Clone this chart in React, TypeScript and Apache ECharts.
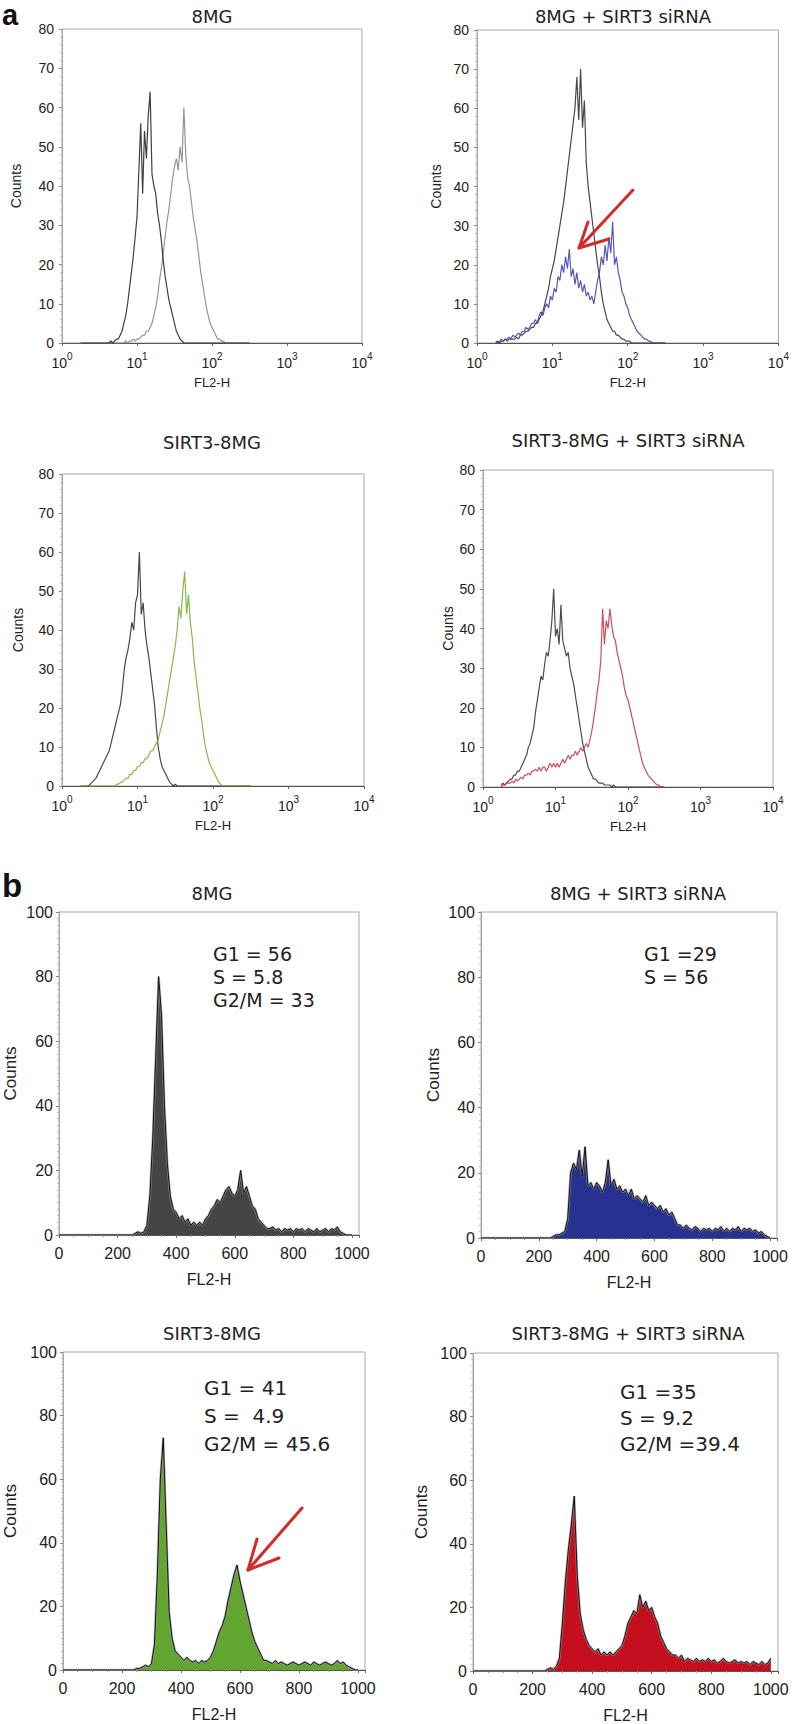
import React, { useEffect, useRef } from "react";
import * as echarts from "echarts";

// ---------- DATA ----------
// Panel a: log10 of FL2-H channel for each histogram point
const A_EXP = [
  0.25, 0.275, 0.3, 0.325, 0.35, 0.375, 0.4, 0.425, 0.45, 0.475,
  0.5, 0.525, 0.55, 0.575, 0.6, 0.625, 0.65, 0.675, 0.7, 0.725,
  0.75, 0.775, 0.8, 0.825, 0.85, 0.875, 0.9, 0.925, 0.95, 0.975,
  1, 1.025, 1.05, 1.075, 1.1, 1.125, 1.15, 1.175, 1.2, 1.225,
  1.25, 1.275, 1.3, 1.325, 1.35, 1.375, 1.4, 1.425, 1.45, 1.475,
  1.5, 1.525, 1.55, 1.575, 1.6, 1.625, 1.65, 1.675, 1.7, 1.725,
  1.75, 1.775, 1.8, 1.825, 1.85, 1.875, 1.9, 1.925, 1.95, 1.975,
  2, 2.025, 2.05, 2.075, 2.1, 2.125, 2.15, 2.175, 2.2, 2.225,
  2.25, 2.275, 2.3, 2.325, 2.35, 2.375, 2.4, 2.425, 2.45, 2.475, 2.5,
];

const A1_BLACK = [
  0, 0, 0, 0, 0, 0, 0, 0, 0, 0,
  0, 0, 0, 0, 0, 0, 0.5, 0, 0.5, 1,
  1, 2, 3, 5, 7, 10, 14, 18, 22, 27,
  32, 44, 56, 38, 54, 47, 58, 64, 43, 40,
  38, 33, 30, 26, 21, 17, 14, 11, 9, 7,
  5, 3, 2, 1, 0.5, 0, 0, 0, 0, 0,
  0, 0, 0, 0, 0, 0, 0, 0, 0, 0,
  0, 0, 0, 0, 0, 0, 0, 0, 0, 0,
  0, 0, 0, 0, 0, 0, 0, 0, 0, 0, 0,
];
const A1_GRAY = [
  0, 0, 0, 0, 0, 0, 0, 0, 0, 0,
  0, 0, 0, 0, 0, 0, 0, 0, 0, 0,
  0, 0, 0, 0, 0.5, 0, 0.5, 0.5, 1, 0.5,
  1, 1, 1.5, 2, 2, 3, 3, 4, 5, 7,
  9, 12, 16, 19, 23, 27, 31, 34, 38, 42,
  45, 47, 44, 50, 46, 60, 48, 42, 40, 36,
  32, 29, 26, 22, 18, 15, 12, 9, 7, 5,
  4, 3, 2, 1, 1, 0.5, 0.5, 0, 0, 0,
  0, 0, 0, 0, 0, 0, 0, 0, 0, 0, 0,
];
const A2_BLACK = [
  0, 0.5, 0, 0.5, 0.5, 1, 0.5, 1, 1, 1,
  1, 1.5, 1, 2, 2, 2.5, 3, 3, 3.5, 4,
  4, 5, 5, 6, 7, 8, 10, 12, 14, 17,
  19, 21, 24, 27, 30, 33, 36, 40, 44, 48,
  52, 56, 60, 68, 57, 70, 55, 62, 46, 40,
  36, 32, 28, 24, 20, 17, 13, 10, 8, 6,
  5, 4, 3, 3, 2, 2, 1.5, 1, 1, 0.5,
  0.5, 0.5, 0, 0, 0, 0, 0, 0, 0, 0,
  0, 0, 0, 0, 0, 0, 0, 0, 0, 0, 0,
];
const A2_BLUE = [
  0.5, 0, 0.5, 1, 0.5, 1, 1, 1.5, 1, 2,
  1.5, 2, 2.5, 2, 3, 3, 4, 3.5, 4, 5,
  5, 6, 5, 7, 8, 7, 9, 10, 9, 12,
  11, 14, 13, 17, 16, 20, 18, 22, 19, 24,
  17, 19, 15, 18, 14, 16, 13, 15, 12, 13,
  11, 12, 10, 13, 16, 18, 22, 20, 25, 21,
  27, 23, 31, 20, 22, 18, 16, 13, 12, 10,
  9, 7, 6, 5, 4, 3, 2.5, 2, 1.5, 1,
  1, 0.5, 0.5, 0, 0, 0, 0, 0, 0, 0, 0,
];
const A3_BLACK = [
  0, 0, 0, 0, 0, 0.5, 1, 1.5, 2, 3,
  4, 5, 6, 7, 8, 9, 11, 13, 15, 17,
  19, 21, 25, 30, 33, 35, 38, 42, 40, 47,
  49, 60, 44, 47, 40, 36, 33, 29, 25, 21,
  15, 10, 7, 5, 4, 3, 2, 1, 0.5, 0,
  0.5, 0, 0, 0, 0, 0, 0, 0, 0, 0,
  0, 0, 0, 0, 0, 0, 0, 0, 0, 0,
  0, 0, 0, 0, 0, 0, 0, 0, 0, 0,
  0, 0, 0, 0, 0, 0, 0, 0, 0, 0, 0,
];
const A3_GREEN = [
  0, 0, 0, 0, 0, 0, 0, 0, 0, 0,
  0, 0, 0, 0, 0, 0, 0, 0, 0, 0.5,
  0.5, 1, 1, 1.5, 2, 2, 3, 3, 4, 4,
  5, 5, 6, 6, 7, 7, 8, 9, 9, 10,
  11, 12, 14, 16, 18, 21, 24, 27, 30, 33,
  36, 40, 46, 43, 50, 55, 44, 49, 42, 38,
  32, 28, 24, 20, 17, 13, 10, 8, 6, 5,
  4, 3, 2, 1, 0.5, 0, 0, 0, 0, 0,
  0, 0, 0, 0, 0, 0, 0, 0, 0, 0, 0,
];
const A4_BLACK = [
  0.5, 1, 0.5, 1, 1.5, 2, 2, 3, 3, 4,
  4, 5, 6, 7, 8, 10, 11, 13, 15, 19,
  22, 25, 28, 27, 31, 34, 33, 37, 42, 50,
  38, 40, 36, 46, 37, 35, 33, 34, 30, 28,
  26, 23, 20, 17, 14, 11, 9, 7, 5, 4,
  3, 2, 2, 1.5, 1, 1, 1, 0.5, 0.5, 0.5,
  0.5, 0, 0.5, 0, 0, 0, 0, 0, 0, 0,
  0, 0, 0, 0, 0, 0, 0, 0, 0, 0,
  0, 0, 0, 0, 0, 0, 0, 0, 0, 0, 0,
];
const A4_RED = [
  0, 0.5, 0.5, 1, 1, 1, 1.5, 1, 2, 1.5,
  2, 2.5, 2, 3, 3, 3.5, 3, 4, 4, 4.5,
  4, 5, 4, 5, 5, 4, 5, 6, 5, 6,
  5, 6, 5, 6, 7, 6, 7, 8, 7, 8,
  8, 9, 8, 9, 10, 9, 10, 11, 10, 12,
  14, 17, 20, 24, 27, 32, 45, 36, 42, 40,
  45, 41, 38, 37, 34, 32, 30, 28, 25, 23,
  22, 20, 18, 16, 14, 12, 10, 8, 6, 5,
  4, 3, 2.5, 2, 1.5, 1, 0.5, 0.5, 0, 0, 0,
];

// Panel b: FL2-H channel of each histogram point
const B_CH = [
  0, 10, 20, 30, 40, 50, 60, 70, 80, 90,
  100, 110, 120, 130, 140, 150, 160, 170, 180, 190,
  200, 210, 220, 230, 240, 250, 260, 270, 280, 290,
  300, 310, 320, 330, 340, 350, 360, 370, 380, 390,
  400, 410, 420, 430, 440, 450, 460, 470, 480, 490,
  500, 510, 520, 530, 540, 550, 560, 570, 580, 590,
  600, 610, 620, 630, 640, 650, 660, 670, 680, 690,
  700, 710, 720, 730, 740, 750, 760, 770, 780, 790,
  800, 810, 820, 830, 840, 850, 860, 870, 880, 890,
  900, 910, 920, 930, 940, 950, 960, 970, 980, 990, 1000,
];
const B1_8MG = [
  0, 0, 0, 0, 0, 0, 0, 0, 0, 0,
  0, 0, 0, 0, 0, 0, 0, 0, 0, 0,
  0, 0, 0, 0, 0, 0, 0.5, 1, 0.5, 1,
  3, 12, 30, 55, 80, 68, 40, 22, 12, 8,
  7, 5, 6, 4, 5, 3, 4, 3, 4, 3,
  5, 6, 8, 9, 11, 10, 12, 14, 15, 13,
  12, 14, 20, 13, 15, 12, 9, 8, 5, 4,
  3, 2, 2, 2.5, 1.5, 2, 1, 2, 1.5, 2,
  1, 2, 1.5, 2, 1, 2, 1.5, 1, 2, 1,
  1.5, 2, 1, 2, 1.5, 2.5, 1, 0.5, 0, 0, 0,
];
const B2_8MG_SI = [
  0, 0, 0, 0, 0, 0, 0, 0, 0, 0,
  0, 0, 0, 0, 0, 0, 0, 0, 0, 0,
  0, 0, 0, 0, 0, 0.5, 1, 1, 1.5, 2,
  6, 20, 23, 21, 27, 19, 28, 16, 17, 15,
  17, 16, 14, 17, 24, 16, 18, 15, 16, 14,
  15, 13, 15, 12, 13, 12, 11, 13, 10, 11,
  10, 9, 10, 8, 9, 7, 8, 6, 4, 4,
  3, 4, 3, 2.5, 3.5, 3, 2, 3, 2.5, 3,
  2, 3, 2.5, 3.5, 2, 3, 2, 3, 2.5, 3.5,
  2, 3, 2.5, 3, 2, 2.5, 1.5, 2, 1, 0.5, 0,
];
const B3_SIRT3 = [
  0, 0, 0, 0, 0, 0, 0, 0, 0, 0,
  0, 0, 0, 0, 0, 0, 0, 0, 0, 0,
  0, 0, 0, 0, 0, 0.5, 0.5, 1, 1.5, 1,
  2, 8, 30, 60, 73, 45, 18, 10, 6, 5,
  4, 3, 4, 3, 2.5, 3, 2, 3, 2.5, 3,
  4, 6, 9, 12, 14, 17, 22, 26, 30, 33,
  28, 24, 20, 16, 12, 9, 7, 5, 3, 3,
  2.5, 2, 3, 2, 2.5, 2, 1.5, 2, 2.5, 2,
  1.5, 2, 2.5, 2, 1.5, 2.5, 2, 1.5, 2, 2.5,
  2, 1.5, 2, 3, 2, 2.5, 1.5, 1, 0.5, 0, 0,
];
const B4_SIRT3_SI = [
  0, 0, 0, 0, 0, 0, 0, 0, 0, 0,
  0, 0, 0, 0, 0, 0, 0, 0, 0, 0,
  0, 0, 0, 0, 0, 0.5, 1, 0.5, 1.5, 4,
  15, 28, 38, 46, 55, 30, 18, 13, 10, 8,
  7, 6, 7, 5, 6, 5, 6, 5, 6, 7,
  8, 11, 15, 17, 19, 18, 24, 20, 22, 19,
  20, 17, 15, 11, 9, 7, 6, 5, 5, 4,
  5, 3, 4, 3.5, 3, 4, 3, 3.5, 3, 4,
  3, 3.5, 2.5, 3, 4, 3, 2.5, 3, 3.5, 2.5,
  3, 2.5, 3, 2, 3, 2.5, 2, 3, 2, 2.5, 4,
];

const A_TITLES = ["8MG", "8MG + SIRT3 siRNA", "SIRT3-8MG", "SIRT3-8MG + SIRT3 siRNA"];
const B_TITLES = ["8MG", "8MG + SIRT3 siRNA", "SIRT3-8MG", "SIRT3-8MG + SIRT3 siRNA"];
const B_NOTES = [
  ["G1 = 56", "S = 5.8", "G2/M = 33"],
  ["G1 =29", "S = 56"],
  ["G1 = 41", "S =  4.9", "G2/M = 45.6"],
  ["G1 =35", "S = 9.2", "G2/M =39.4"],
];
const A_Y_TICKS = { min: 0, max: 80, interval: 10 };
const B_Y_TICKS = { min: 0, max: 100, interval: 20 };
const B_X_TICKS = { min: 0, max: 1024, interval: 200 };

// ---------- LAYOUT / STYLE ----------
const W = 792;
const H = 1724;
const A_GRIDS = [
  { left: 62, top: 29, width: 300, height: 314 },
  { left: 477, top: 30, width: 302, height: 313 },
  { left: 62, top: 474, width: 302, height: 312 },
  { left: 483, top: 470, width: 290, height: 317 },
];
const B_GRIDS = [
  { left: 59, top: 912, width: 300, height: 323 },
  { left: 481, top: 912, width: 296, height: 326 },
  { left: 63, top: 1352, width: 302, height: 318 },
  { left: 473, top: 1353, width: 305, height: 321 },
];
const A_TITLE_POS = [[212, 16], [623, 16], [212, 442], [628, 440]];
const B_TITLE_POS = [[212, 893], [638, 893], [212, 1333], [628, 1333]];
const A_NAMEGAP = [39, 34, 37, 28];
const B_NAMEGAP = [40, 39, 44, 43];
const NOTE_POS = [
  { x: 213, y: [954, 977, 1000], size: 19 },
  { x: 644, y: [954, 977], size: 19 },
  { x: 204, y: [1388, 1416, 1444], size: 20 },
  { x: 620, y: [1392, 1418, 1444], size: 20 },
];
const A_COLORS = [
  ["#8a8a8a", "#2a2a2a"],
  ["#333333", "#4347ad"],
  ["#333333", "#78b436"],
  ["#3a3a3a", "#c83a50"],
];
const B_FILLS = ["#454545", "#27318f", "#62a631", "#c50f1f"];
const SANS = "'Liberation Sans', Arial, sans-serif";
const TITLE_FONT = "'DejaVu Sans', 'Noto Sans', sans-serif";

const A_DATA = [
  [A1_GRAY, A1_BLACK],
  [A2_BLACK, A2_BLUE],
  [A3_BLACK, A3_GREEN],
  [A4_BLACK, A4_RED],
];
const B_DATA = [B1_8MG, B2_8MG_SI, B3_SIRT3, B4_SIRT3_SI];

function buildOption() {
  const grid: any[] = [];
  const xAxis: any[] = [];
  const yAxis: any[] = [];
  const series: any[] = [];
  const graphic: any[] = [];

  const frame = { show: true, borderColor: "#a8a8a8", borderWidth: 1, backgroundColor: "transparent" };

  A_GRIDS.forEach((g, k) => {
    const idx = grid.length;
    grid.push({ ...g, ...frame });
    xAxis.push({
      gridIndex: idx,
      type: "log",
      logBase: 10,
      min: 1,
      max: 10000,
      name: "FL2-H",
      nameLocation: "middle",
      nameGap: 33,
      nameTextStyle: { fontSize: 13, fontFamily: SANS, color: "#222" },
      axisLine: { show: true, lineStyle: { color: "#555", width: 1.2 } },
      axisTick: { show: true, length: 3, lineStyle: { color: "#666" } },
      minorTick: { show: false },
      splitLine: { show: false },
      axisLabel: {
        margin: 8,
        color: "#222",
        formatter: (v: number) => `{b|10}{s|${Math.round(Math.log10(v))}}`,
        rich: {
          b: { fontSize: 14, fontFamily: SANS, color: "#222", verticalAlign: "bottom", lineHeight: 19 },
          s: { fontSize: 10, fontFamily: SANS, color: "#222", verticalAlign: "top", lineHeight: 19 },
        },
      },
    });
    yAxis.push({
      gridIndex: idx,
      type: "value",
      ...A_Y_TICKS,
      name: "Counts",
      nameLocation: "middle",
      nameGap: A_NAMEGAP[k],
      nameTextStyle: { fontSize: 14, fontFamily: SANS, color: "#222" },
      axisLine: { show: true, lineStyle: { color: "#9a9a9a", type: "dotted", width: 1 } },
      axisTick: { show: true, length: 3, lineStyle: { color: "#888" } },
      minorTick: { show: true, splitNumber: 5, length: 2, lineStyle: { color: "#bbb" } },
      splitLine: { show: false },
      axisLabel: { fontSize: 14, fontFamily: SANS, color: "#222", margin: 8 },
    });
    A_DATA[k].forEach((vals, j) => {
      series.push({
        type: "line",
        xAxisIndex: idx,
        yAxisIndex: idx,
        showSymbol: false,
        silent: true,
        data: A_EXP.map((e, i) => [Math.pow(10, e), vals[i]]),
        lineStyle: { color: A_COLORS[k][j], width: 1.2, opacity: 0.9 },
      });
    });
    graphic.push({
      type: "text",
      x: A_TITLE_POS[k][0],
      y: A_TITLE_POS[k][1],
      style: {
        text: A_TITLES[k],
        font: `18px ${TITLE_FONT}`,
        fill: "#222",
        textAlign: "center",
        textVerticalAlign: "middle",
        align: "center",
        verticalAlign: "middle",
      },
    });
  });

  B_GRIDS.forEach((g, k) => {
    const idx = grid.length;
    grid.push({ ...g, ...frame });
    xAxis.push({
      gridIndex: idx,
      type: "value",
      ...B_X_TICKS,
      name: "FL2-H",
      nameLocation: "middle",
      nameGap: 36,
      nameTextStyle: { fontSize: 16, fontFamily: SANS, color: "#222" },
      axisLine: { show: true, lineStyle: { color: "#555", width: 1.2 } },
      axisTick: { show: true, length: 3, lineStyle: { color: "#666" } },
      minorTick: { show: true, splitNumber: 4, length: 2, lineStyle: { color: "#999" } },
      splitLine: { show: false },
      axisLabel: {
        fontSize: 16,
        fontFamily: SANS,
        color: "#222",
        margin: 10,
        formatter: (v: number) => (v % 200 === 0 ? String(v) : ""),
      },
    });
    yAxis.push({
      gridIndex: idx,
      type: "value",
      ...B_Y_TICKS,
      name: "Counts",
      nameLocation: "middle",
      nameGap: B_NAMEGAP[k],
      nameTextStyle: { fontSize: 17, fontFamily: SANS, color: "#222" },
      axisLine: { show: true, lineStyle: { color: "#9a9a9a", type: "dotted", width: 1 } },
      axisTick: { show: true, length: 3, lineStyle: { color: "#888" } },
      minorTick: { show: true, splitNumber: 10, length: 2, lineStyle: { color: "#bbb" } },
      splitLine: { show: false },
      axisLabel: { fontSize: 16, fontFamily: SANS, color: "#222", margin: 6 },
    });
    series.push({
      type: "line",
      xAxisIndex: idx,
      yAxisIndex: idx,
      showSymbol: false,
      silent: true,
      data: B_CH.map((c, i) => [c, B_DATA[k][i]]),
      lineStyle: { color: "#9a9a9a", width: 2.4, opacity: 0.7 },
      areaStyle: { color: B_FILLS[k], opacity: 1 },
    });
    series.push({
      type: "line",
      xAxisIndex: idx,
      yAxisIndex: idx,
      showSymbol: false,
      silent: true,
      data: B_CH.map((c, i) => [c, B_DATA[k][i]]),
      lineStyle: { color: "#111", width: 1 },
    });
    graphic.push({
      type: "text",
      x: B_TITLE_POS[k][0],
      y: B_TITLE_POS[k][1],
      style: {
        text: B_TITLES[k],
        font: `18px ${TITLE_FONT}`,
        fill: "#222",
        textAlign: "center",
        textVerticalAlign: "middle",
        align: "center",
        verticalAlign: "middle",
      },
    });
    const np = NOTE_POS[k];
    B_NOTES[k].forEach((t, j) => {
      graphic.push({
        type: "text",
        x: np.x,
        y: np.y[j],
        style: {
          text: t,
          font: `${np.size}px ${TITLE_FONT}`,
          fill: "#222",
          textAlign: "left",
          textVerticalAlign: "middle",
          align: "left",
          verticalAlign: "middle",
        },
      });
    });
  });

  // panel letters
  graphic.push({
    type: "text",
    x: 2,
    y: 15,
    style: { text: "a", font: `bold 29px ${SANS}`, fill: "#111", textVerticalAlign: "middle", verticalAlign: "middle" },
  });
  graphic.push({
    type: "text",
    x: 2,
    y: 885,
    style: { text: "b", font: `bold 33px ${SANS}`, fill: "#111", textVerticalAlign: "middle", verticalAlign: "middle" },
  });

  // red arrows
  const arrow = (pts: number[][]) => ({
    type: "polyline",
    shape: { points: pts },
    style: { stroke: "#d42a2a", lineWidth: 3, fill: null, lineCap: "round", lineJoin: "round" },
    z: 100,
  });
  graphic.push(arrow([[633, 190], [579, 248]]));
  graphic.push(arrow([[588, 222], [579, 248], [609, 239]]));
  graphic.push(arrow([[302, 1508], [248, 1570]]));
  graphic.push(arrow([[257, 1539], [248, 1570], [279, 1558]]));

  return {
    animation: false,
    backgroundColor: "#ffffff",
    grid,
    xAxis,
    yAxis,
    series,
    graphic,
  };
}

export default function App() {
  const ref = useRef<HTMLDivElement>(null);
  useEffect(() => {
    document.body.style.margin = "0";
    if (!ref.current) return;
    const chart = echarts.init(ref.current, undefined, { renderer: "svg", width: W, height: H });
    chart.setOption(buildOption() as any);
    return () => chart.dispose();
  }, []);
  return <div ref={ref} style={{ width: W, height: H, background: "#fff" }} />;
}
